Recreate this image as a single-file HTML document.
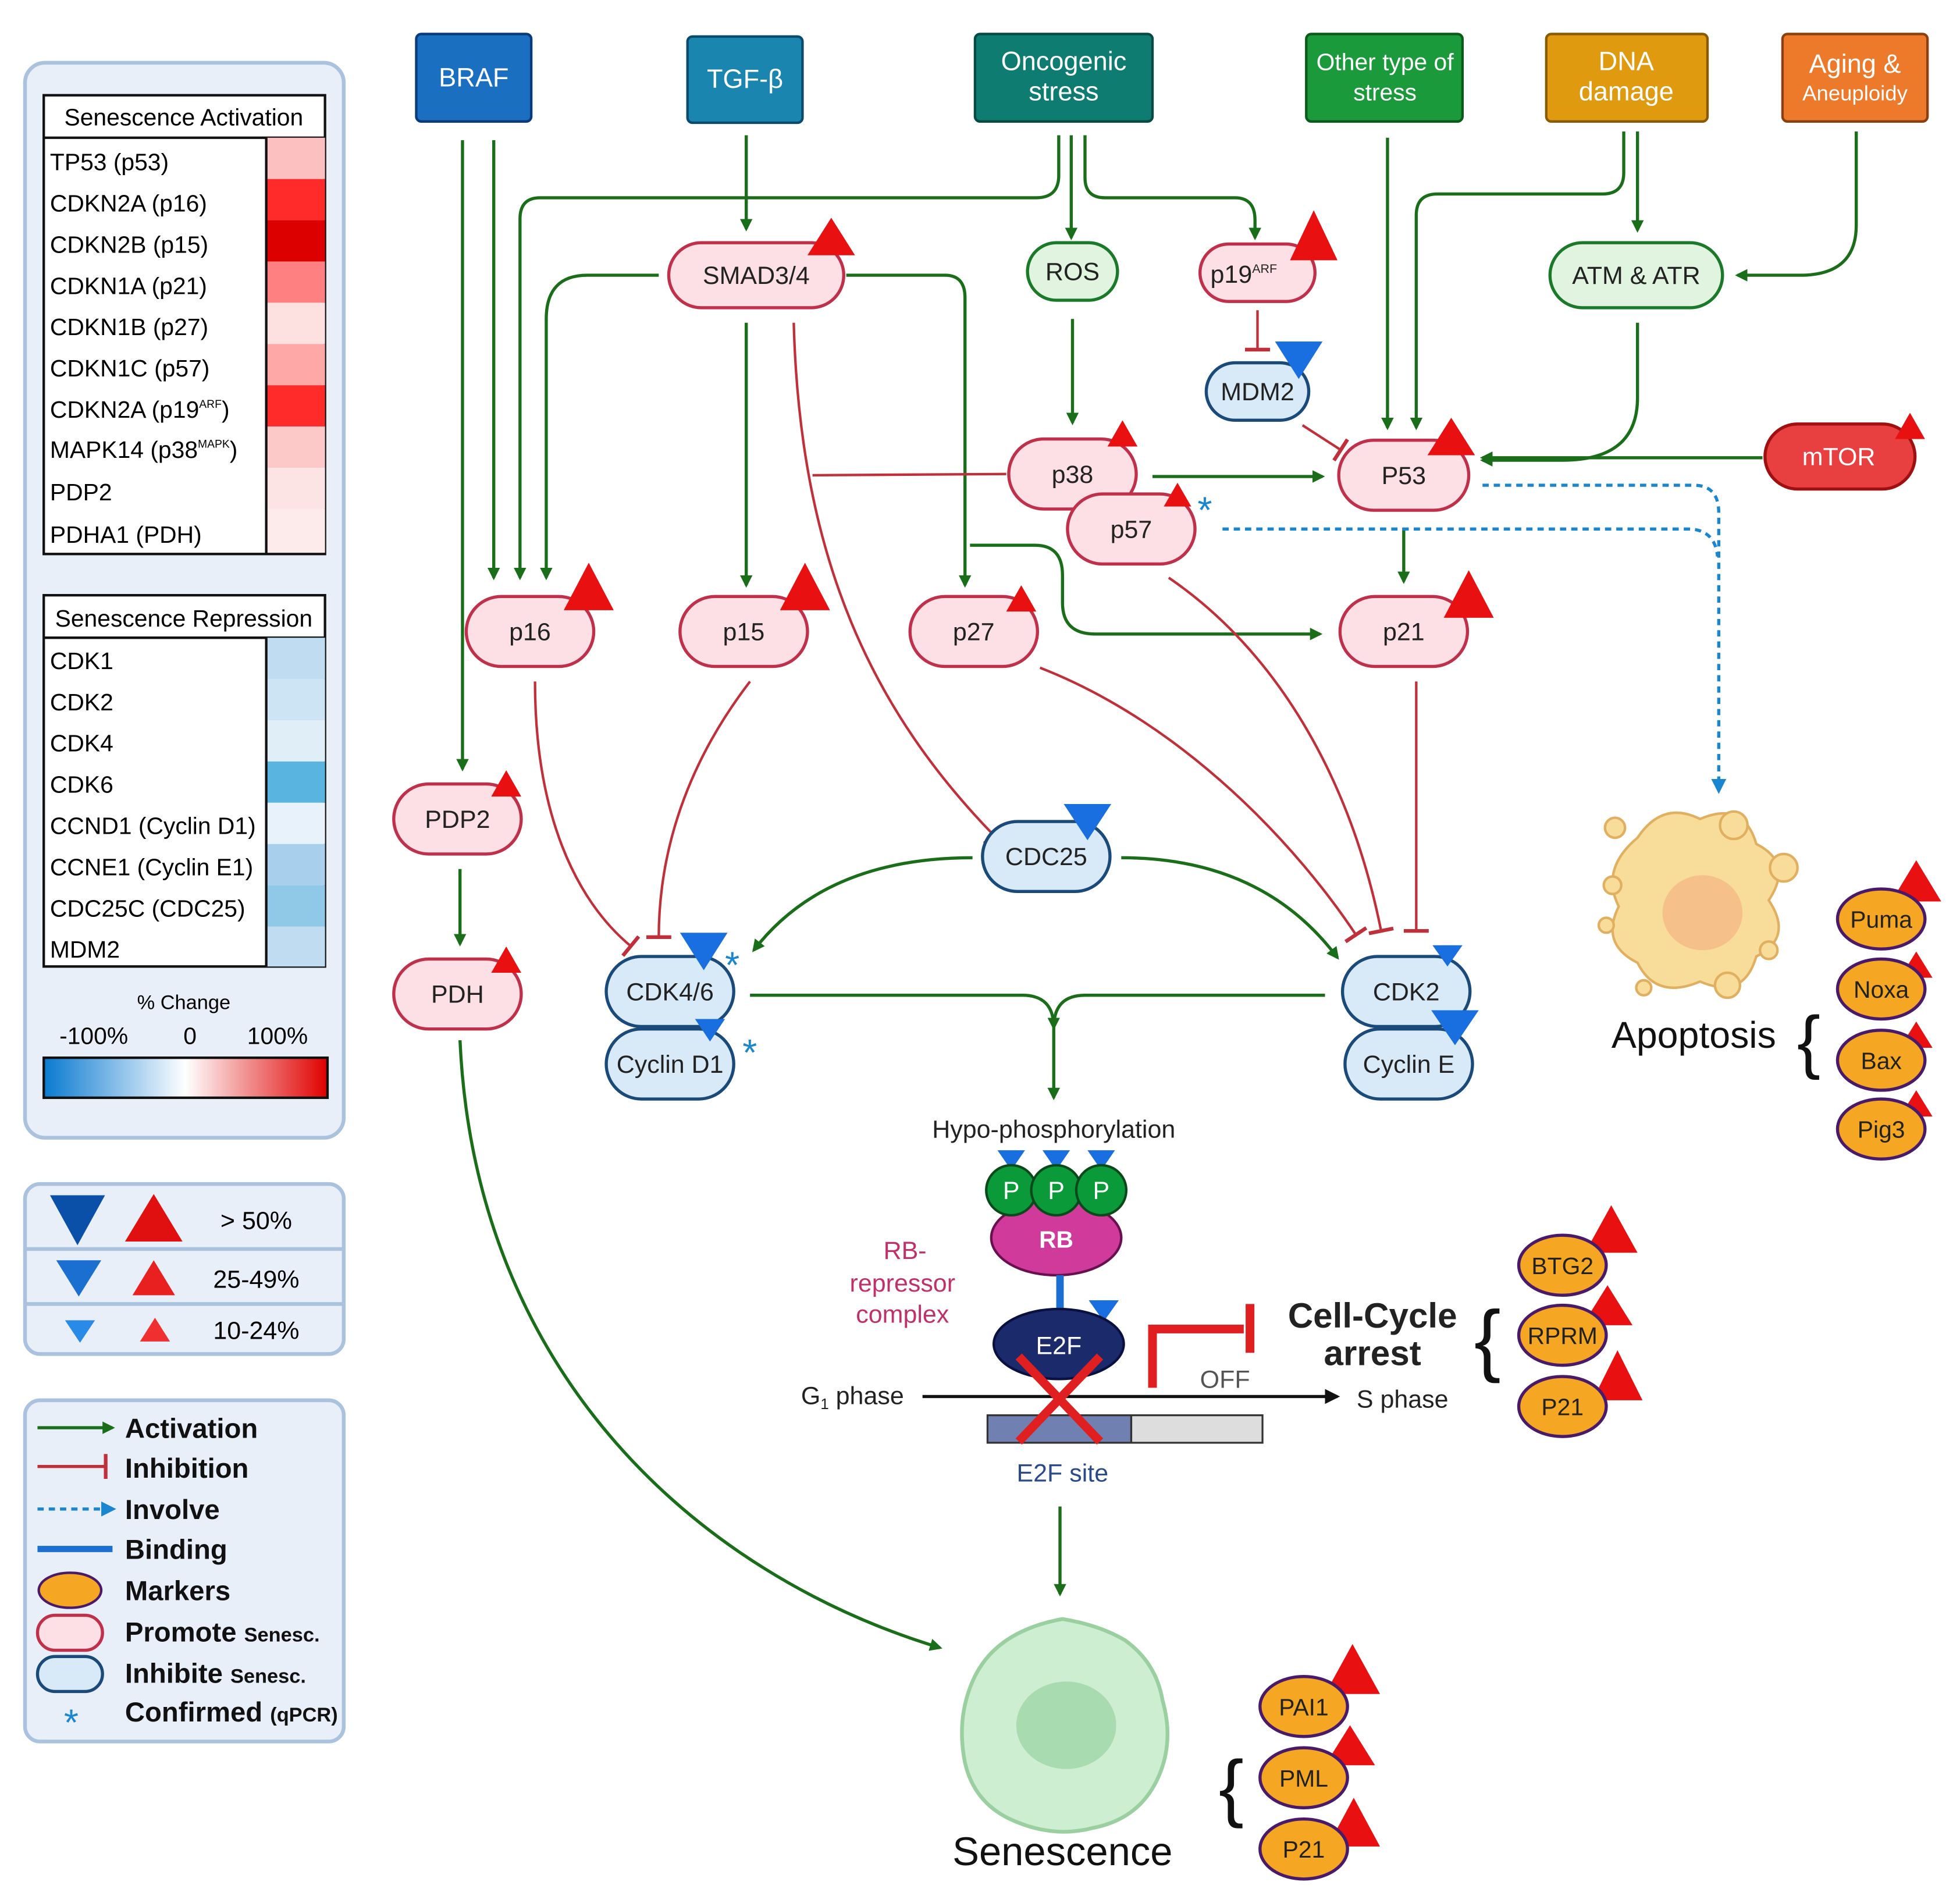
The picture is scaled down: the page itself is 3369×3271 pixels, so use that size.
<!DOCTYPE html>
<html><head><meta charset="utf-8"><style>
html,body{margin:0;padding:0;background:#fff}
svg{display:block}
text{font-family:"Liberation Sans",sans-serif}
</style></head><body>
<svg width="3369" height="3271" viewBox="0 0 1568 1522" xmlns="http://www.w3.org/2000/svg">
<defs>
<marker id="ga" markerWidth="10" markerHeight="10" refX="8" refY="5" orient="auto" markerUnits="userSpaceOnUse"><path d="M0,0 L10,5 L0,10 z" fill="#1a6e1a"/></marker>
<marker id="ba" markerWidth="12" markerHeight="12" refX="9" refY="6" orient="auto" markerUnits="userSpaceOnUse"><path d="M0,0 L12,6 L0,12 z" fill="#1a86d0"/></marker>
<marker id="ka" markerWidth="12" markerHeight="12" refX="10" refY="6" orient="auto" markerUnits="userSpaceOnUse"><path d="M0,0 L12,6 L0,12 z" fill="#111"/></marker>
<marker id="rb" markerWidth="4" markerHeight="20" refX="2" refY="10" orient="auto" markerUnits="userSpaceOnUse"><rect x="0" y="0" width="3" height="20" fill="#c0303a"/></marker>
<linearGradient id="grad" x1="0" x2="1"><stop offset="0" stop-color="#0a7ad0"/><stop offset="0.5" stop-color="#fff"/><stop offset="1" stop-color="#e00000"/></linearGradient>
</defs>

<!-- LEFT LEGEND PANEL -->
<rect x="20" y="50" width="255" height="860" rx="16" fill="#e8eff8" stroke="#aac2de" stroke-width="3"/>
<rect x="35" y="76" width="225" height="367" fill="#fff" stroke="#111" stroke-width="2"/>
<line x1="35" y1="110" x2="260" y2="110" stroke="#111" stroke-width="2"/>
<text x="147" y="100" font-size="19" text-anchor="middle">Senescence Activation</text>
<g font-size="19">
<rect x="213" y="110" width="47" height="33" fill="#fcc0c0"/><text x="40" y="136">TP53 (p53)</text>
<rect x="213" y="143" width="47" height="33" fill="#ff2a2a"/><text x="40" y="169">CDKN2A (p16)</text>
<rect x="213" y="176" width="47" height="33" fill="#dd0000"/><text x="40" y="202">CDKN2B (p15)</text>
<rect x="213" y="209" width="47" height="33" fill="#ff8080"/><text x="40" y="235">CDKN1A (p21)</text>
<rect x="213" y="242" width="47" height="33" fill="#fde0e0"/><text x="40" y="268">CDKN1B (p27)</text>
<rect x="213" y="275" width="47" height="33" fill="#ffa8a8"/><text x="40" y="301">CDKN1C (p57)</text>
<rect x="213" y="308" width="47" height="33" fill="#ff2a2a"/><text x="40" y="334">CDKN2A (p19<tspan font-size="9" dy="-8">ARF</tspan><tspan dy="8">)</tspan></text>
<rect x="213" y="341" width="47" height="33" fill="#fcc8c8"/><text x="40" y="366">MAPK14 (p38<tspan font-size="9" dy="-8">MAPK</tspan><tspan dy="8">)</tspan></text>
<rect x="213" y="374" width="47" height="33" fill="#fde4e4"/><text x="40" y="400">PDP2</text>
<rect x="213" y="407" width="47" height="35" fill="#fdeaea"/><text x="40" y="434">PDHA1 (PDH)</text>
</g>
<line x1="213" y1="110" x2="213" y2="443" stroke="#111" stroke-width="2"/>

<rect x="35" y="476" width="225" height="297" fill="#fff" stroke="#111" stroke-width="2"/>
<line x1="35" y1="510" x2="260" y2="510" stroke="#111" stroke-width="2"/>
<text x="147" y="501" font-size="19" text-anchor="middle">Senescence Repression</text>
<g font-size="19">
<rect x="213" y="510" width="47" height="33" fill="#c0dcf0"/><text x="40" y="535">CDK1</text>
<rect x="213" y="543" width="47" height="33" fill="#cce4f4"/><text x="40" y="568">CDK2</text>
<rect x="213" y="576" width="47" height="33" fill="#e0eef8"/><text x="40" y="601">CDK4</text>
<rect x="213" y="609" width="47" height="33" fill="#5ab4e0"/><text x="40" y="634">CDK6</text>
<rect x="213" y="642" width="47" height="33" fill="#e8f2fa"/><text x="40" y="667">CCND1 (Cyclin D1)</text>
<rect x="213" y="675" width="47" height="33" fill="#a8d0ec"/><text x="40" y="700">CCNE1 (Cyclin E1)</text>
<rect x="213" y="708" width="47" height="33" fill="#90c8e8"/><text x="40" y="733">CDC25C (CDC25)</text>
<rect x="213" y="741" width="47" height="32" fill="#c0dcf0"/><text x="40" y="766">MDM2</text>
</g>
<line x1="213" y1="510" x2="213" y2="773" stroke="#111" stroke-width="2"/>
<text x="147" y="807" font-size="16" text-anchor="middle">% Change</text>
<text x="75" y="835" font-size="19" text-anchor="middle">-100%</text>
<text x="152" y="835" font-size="19" text-anchor="middle">0</text>
<text x="222" y="835" font-size="19" text-anchor="middle">100%</text>
<rect x="35" y="846" width="227" height="32" fill="url(#grad)" stroke="#111" stroke-width="2"/>

<!-- threshold panel -->
<rect x="20" y="947" width="255" height="136" rx="12" fill="#e8eff8" stroke="#aac2de" stroke-width="3"/>
<line x1="20" y1="999" x2="275" y2="999" stroke="#aac2de" stroke-width="3"/>
<line x1="20" y1="1043" x2="275" y2="1043" stroke="#aac2de" stroke-width="3"/>
<polygon points="40,956 84,956 62,996" fill="#0a4fa8"/>
<polygon points="100,993 146,993 123,955" fill="#e01010"/>
<text x="205" y="983" font-size="20" text-anchor="middle">&gt; 50%</text>
<polygon points="45,1008 81,1008 63,1037" fill="#1a6fd0"/>
<polygon points="106,1036 140,1036 123,1008" fill="#e82020"/>
<text x="205" y="1030" font-size="20" text-anchor="middle">25-49%</text>
<polygon points="52,1056 76,1056 64,1074" fill="#2a8ae8"/>
<polygon points="112,1073 136,1073 124,1054" fill="#f03030"/>
<text x="205" y="1071" font-size="20" text-anchor="middle">10-24%</text>

<!-- legend key panel -->
<rect x="20" y="1120" width="255" height="273" rx="12" fill="#e8eff8" stroke="#aac2de" stroke-width="3"/>
<g font-size="22" font-weight="bold" fill="#111">
<line x1="30" y1="1142" x2="90" y2="1142" stroke="#1a6e1a" stroke-width="2.5" marker-end="url(#ga)"/><text x="100" y="1150">Activation</text>
<line x1="30" y1="1173" x2="85" y2="1173" stroke="#c0303a" stroke-width="2.5" marker-end="url(#rb)"/><text x="100" y="1182">Inhibition</text>
<line x1="30" y1="1207" x2="90" y2="1207" stroke="#1a86d0" stroke-width="2.5" stroke-dasharray="5,4" marker-end="url(#ba)"/><text x="100" y="1215">Involve</text>
<line x1="30" y1="1239" x2="90" y2="1239" stroke="#1a6fd0" stroke-width="5"/><text x="100" y="1247">Binding</text>
<ellipse cx="56" cy="1272" rx="25" ry="14" fill="#f5a623" stroke="#4a1a6a" stroke-width="2"/><text x="100" y="1280">Markers</text>
<rect x="30" y="1292" width="52" height="28" rx="14" fill="#fde0e6" stroke="#c0304a" stroke-width="2.5"/><text x="100" y="1313">Promote <tspan font-size="16">Senesc.</tspan></text>
<rect x="30" y="1325" width="52" height="28" rx="14" fill="#d8eaf8" stroke="#1a4a7a" stroke-width="2.5"/><text x="100" y="1346">Inhibite <tspan font-size="16">Senesc.</tspan></text>
<text x="57" y="1388" font-size="30" fill="#1a86d0" text-anchor="middle" font-weight="normal">*</text><text x="100" y="1377">Confirmed <tspan font-size="16">(qPCR)</tspan></text>
</g>

<!-- TOP BOXES -->
<g font-size="21" fill="#fff" text-anchor="middle">
<rect x="333" y="27" width="92" height="70" rx="4" fill="#1a6fc0" stroke="#0a3a7a" stroke-width="2"/><text x="379" y="69">BRAF</text>
<rect x="550" y="29" width="92" height="69" rx="4" fill="#1a86b0" stroke="#0a4a6a" stroke-width="2"/><text x="596" y="70">TGF-β</text>
<rect x="780" y="27" width="142" height="70" rx="4" fill="#0f7c72" stroke="#064a44" stroke-width="2"/><text x="851" y="56">Oncogenic</text><text x="851" y="80">stress</text>
<rect x="1045" y="27" width="125" height="70" rx="4" fill="#1a9a3a" stroke="#0a5a1a" stroke-width="2"/><text x="1108" y="56" font-size="19">Other type of</text><text x="1108" y="80" font-size="19">stress</text>
<rect x="1237" y="27" width="129" height="70" rx="4" fill="#e09a10" stroke="#8a5a00" stroke-width="2"/><text x="1301" y="56">DNA</text><text x="1301" y="80">damage</text>
<rect x="1426" y="27" width="116" height="70" rx="4" fill="#ec7a2a" stroke="#8a4010" stroke-width="2"/><text x="1484" y="58">Aging &amp;</text><text x="1484" y="80" font-size="17">Aneuploidy</text>
</g>

<!-- CONNECTORS green -->
<g fill="none" stroke="#1a6e1a" stroke-width="2.5" marker-end="url(#ga)">
<path d="M370,112 V615"/>
<path d="M395,112 V462"/>
<path d="M847,108 V140 Q847,158 829,158 H432 Q416,158 416,175 V462"/>
<path d="M527,220 H470 Q437,220 437,255 V462"/>
<path d="M857,108 V190"/>
<path d="M868,108 V142 Q868,158 884,158 H988 Q1004,158 1004,176 V190"/>
<path d="M597,108 V183"/>
<path d="M597,258 V468"/>
<path d="M677,220 H756 Q772,220 772,238 V468"/>
<path d="M858,255 V338"/>
<path d="M1110,110 V342"/>
<path d="M1299,105 V138 Q1299,155 1282,155 H1150 Q1133,155 1133,172 V342"/>
<path d="M1310,105 V184"/>
<path d="M1485,105 V180 Q1485,220 1440,220 H1390"/>
<path d="M1310,258 V318 Q1310,368 1250,368 H1186"/>
<path d="M1410,366 H1186"/>
<path d="M922,381 H1058"/>
<path d="M1123,422 V465"/>
<path d="M776,436 H828 Q850,436 850,460 V482 Q850,507 876,507 H1056"/>
<path d="M778,686 Q660,686 603,760"/>
<path d="M897,686 Q1010,686 1070,766"/>
<path d="M600,796 H818 Q843,796 843,822 V878"/>
<path d="M1060,796 H868 Q843,796 843,822"/>
<path d="M368,695 V755"/>
<path d="M368,832 C380,1100 560,1260 752,1318"/>
<path d="M848,1205 V1275"/>
</g>

<!-- inhibitions red -->
<g fill="none" stroke="#c0303a" stroke-width="2" marker-end="url(#rb)">
<path d="M635,258 C640,450 700,570 795,668"/>
<path d="M428,545 C428,650 460,720 505,757"/>
<path d="M600,545 C550,610 527,680 527,750"/>
<path d="M832,534 C950,580 1040,680 1085,748"/>
<path d="M935,462 C1020,520 1080,620 1105,745"/>
<path d="M1133,545 V745"/>
<path d="M1006,248 V280"/>
<path d="M1042,340 L1073,360"/>
</g>
<line x1="805" y1="379" x2="650" y2="380" stroke="#c0303a" stroke-width="2"/>

<!-- dotted blue -->
<g fill="none" stroke="#1a86d0" stroke-width="2.5" stroke-dasharray="5,4">
<path d="M1186,388 H1355 Q1375,388 1375,410 V632" marker-end="url(#ba)"/>
<path d="M978,423 H1350 Q1372,423 1374,445"/>
</g>

<!-- NODES -->
<g font-size="20" text-anchor="middle" stroke-width="2.5">
<g fill="#fde0e6" stroke="#c0304a">
<rect x="535" y="194" width="140" height="52" rx="26"/>
<rect x="960" y="195" width="92" height="46" rx="23"/>
<rect x="807" y="351" width="102" height="56" rx="28"/>
<rect x="854" y="395" width="102" height="56" rx="28"/>
<rect x="1071" y="352" width="104" height="56" rx="28"/>
<rect x="373" y="477" width="102" height="56" rx="28"/>
<rect x="544" y="477" width="102" height="56" rx="28"/>
<rect x="728" y="477" width="102" height="56" rx="28"/>
<rect x="1072" y="477" width="102" height="56" rx="28"/>
<rect x="315" y="627" width="102" height="56" rx="28"/>
<rect x="315" y="767" width="102" height="56" rx="28"/>
</g>
<rect x="1412" y="339" width="120" height="52" rx="26" fill="#e84040" stroke="#a01010"/>
<g fill="#e0f4e0" stroke="#1a7a2a">
<rect x="822" y="194" width="72" height="46" rx="23"/>
<rect x="1240" y="194" width="138" height="52" rx="26"/>
</g>
<g fill="#d8eaf8" stroke="#1a4a7a">
<rect x="965" y="290" width="82" height="46" rx="23"/>
<rect x="786" y="657" width="102" height="56" rx="28"/>
<rect x="485" y="765" width="102" height="56" rx="28"/>
<rect x="485" y="823" width="102" height="56" rx="28"/>
<rect x="1074" y="765" width="102" height="56" rx="28"/>
<rect x="1076" y="823" width="102" height="56" rx="28"/>
</g>
<g stroke="none" fill="#222">
<text x="605" y="227">SMAD3/4</text>
<text x="995" y="226">p19<tspan font-size="10" dy="-8">ARF</tspan></text>
<text x="858" y="386">p38</text>
<text x="905" y="430">p57</text>
<text x="1123" y="387">P53</text>
<text x="1471" y="372" fill="#fff">mTOR</text>
<text x="424" y="512">p16</text>
<text x="595" y="512">p15</text>
<text x="779" y="512">p27</text>
<text x="1123" y="512">p21</text>
<text x="366" y="662">PDP2</text>
<text x="366" y="802">PDH</text>
<text x="858" y="224">ROS</text>
<text x="1309" y="227">ATM &amp; ATR</text>
<text x="1006" y="320">MDM2</text>
<text x="837" y="692">CDC25</text>
<text x="536" y="800">CDK4/6</text>
<text x="536" y="858">Cyclin D1</text>
<text x="1125" y="800">CDK2</text>
<text x="1127" y="858">Cyclin E</text>
</g>
</g>

<!-- triangles red -->
<g fill="#e81010">
<polygon points="646,204 684,204 665,174"/>
<polygon points="1032,208 1070,208 1051,168"/>
<polygon points="886,357 910,357 898,336"/>
<polygon points="931,405 953,405 942,386"/>
<polygon points="1142,364 1180,364 1161,334"/>
<polygon points="1516,351 1540,351 1528,330"/>
<polygon points="451,488 491,488 471,450"/>
<polygon points="624,488 664,488 644,450"/>
<polygon points="805,489 829,489 817,468"/>
<polygon points="1155,494 1195,494 1175,456"/>
<polygon points="393,637 417,637 405,616"/>
<polygon points="393,778 417,778 405,757"/>
<polygon points="1513,721 1553,721 1533,688"/>
<polygon points="1520,782 1546,782 1533,761"/>
<polygon points="1520,838 1546,838 1533,817"/>
<polygon points="1520,893 1546,893 1533,872"/>
<polygon points="1268,1002 1310,1002 1289,964"/>
<polygon points="1266,1060 1306,1060 1286,1028"/>
<polygon points="1274,1120 1314,1120 1294,1080"/>
<polygon points="1060,1355 1104,1355 1082,1315"/>
<polygon points="1060,1412 1100,1412 1080,1380"/>
<polygon points="1062,1477 1104,1477 1083,1438"/>
</g>
<!-- triangles blue -->
<g fill="#1a6fe0">
<polygon points="1020,273 1058,273 1039,303"/>
<polygon points="851,643 889,643 870,672"/>
<polygon points="544,746 582,746 563,776"/>
<polygon points="556,815 580,815 568,833"/>
<polygon points="1146,756 1170,756 1158,773"/>
<polygon points="1145,808 1183,808 1164,836"/>
<polygon points="798,920 820,920 809,936"/>
<polygon points="834,920 856,920 845,936"/>
<polygon points="870,920 892,920 881,936"/>
<polygon points="871,1040 895,1040 883,1057"/>
</g>
<g fill="#1a86d0" font-size="30"><text x="958" y="418">*</text><text x="580" y="782">*</text><text x="594" y="852">*</text></g>

<!-- RB complex -->
<text x="843" y="910" font-size="20" text-anchor="middle" fill="#222">Hypo-phosphorylation</text>
<ellipse cx="845" cy="990" rx="52" ry="30" fill="#d03a9a" stroke="#6a1050" stroke-width="2"/>
<text x="845" y="998" font-size="19" fill="#fff" text-anchor="middle" font-weight="bold">RB</text>
<g stroke="#0a4a1a" stroke-width="2" fill="#0a9a3a">
<circle cx="809" cy="952" r="20"/><circle cx="845" cy="952" r="20"/><circle cx="881" cy="952" r="20"/>
</g>
<g font-size="20" fill="#fff" text-anchor="middle"><text x="809" y="959">P</text><text x="845" y="959">P</text><text x="881" y="959">P</text></g>
<line x1="848" y1="1020" x2="848" y2="1050" stroke="#1a6fd0" stroke-width="6"/>
<ellipse cx="847" cy="1075" rx="52" ry="28" fill="#1a2a6a" stroke="#0a1040" stroke-width="2"/>
<text x="847" y="1083" font-size="20" fill="#fff" text-anchor="middle">E2F</text>
<g fill="#c0306a" font-size="20" text-anchor="middle"><text x="724" y="1007">RB-</text><text x="722" y="1033">repressor</text><text x="722" y="1058">complex</text></g>
<text x="682" y="1123" font-size="20" text-anchor="middle" fill="#222">G<tspan font-size="12" dy="4">1</tspan><tspan dy="-4"> phase</tspan></text>
<line x1="738" y1="1117" x2="1070" y2="1117" stroke="#111" stroke-width="2.5" marker-end="url(#ka)"/>
<text x="1122" y="1126" font-size="20" text-anchor="middle" fill="#222">S phase</text>
<rect x="790" y="1132" width="115" height="22" fill="#7080b0" stroke="#333" stroke-width="1.5"/>
<rect x="905" y="1132" width="105" height="22" fill="#ddd" stroke="#333" stroke-width="1.5"/>
<text x="850" y="1185" font-size="20" text-anchor="middle" fill="#2a4a8a">E2F site</text>
<g stroke="#e02020" stroke-width="7" stroke-linecap="butt" fill="none">
<path d="M815,1085 L880,1153"/><path d="M880,1085 L815,1153"/>
<path d="M922,1110 V1063 H995"/><path d="M1000,1043 V1082"/>
</g>
<text x="980" y="1110" font-size="20" text-anchor="middle" fill="#555">OFF</text>
<text x="1098" y="1062" font-size="28" font-weight="bold" text-anchor="middle" fill="#222">Cell-Cycle</text>
<text x="1098" y="1092" font-size="28" font-weight="bold" text-anchor="middle" fill="#222">arrest</text>
<text x="1190" y="1093" font-size="64" text-anchor="middle" fill="#111">{</text>

<!-- markers -->
<g fill="#f5a623" stroke="#4a1a6a" stroke-width="2.5">
<ellipse cx="1250" cy="1012" rx="35" ry="24"/><ellipse cx="1250" cy="1068" rx="35" ry="24"/><ellipse cx="1250" cy="1125" rx="35" ry="24"/>
<ellipse cx="1505" cy="735" rx="35" ry="24"/><ellipse cx="1505" cy="791" rx="35" ry="24"/><ellipse cx="1505" cy="848" rx="35" ry="24"/><ellipse cx="1505" cy="903" rx="35" ry="24"/>
<ellipse cx="1043" cy="1365" rx="35" ry="24"/><ellipse cx="1043" cy="1422" rx="35" ry="24"/><ellipse cx="1043" cy="1479" rx="35" ry="24"/>
</g>
<g font-size="19" text-anchor="middle" fill="#222">
<text x="1250" y="1019">BTG2</text><text x="1250" y="1075">RPRM</text><text x="1250" y="1132">P21</text>
<text x="1505" y="742">Puma</text><text x="1505" y="798">Noxa</text><text x="1505" y="855">Bax</text><text x="1505" y="910">Pig3</text>
<text x="1043" y="1372">PAI1</text><text x="1043" y="1429">PML</text><text x="1043" y="1486">P21</text>
</g>

<!-- apoptosis blob -->
<g fill="#f8dc9a" stroke="#e0b060" stroke-width="2">
<path d="M1310,670 Q1330,640 1360,655 Q1395,640 1405,675 Q1435,690 1415,720 Q1435,750 1405,765 Q1395,800 1360,785 Q1325,800 1310,770 Q1280,755 1295,725 Q1280,695 1310,670 z"/>
<circle cx="1292" cy="662" r="8"/><circle cx="1387" cy="660" r="11"/><circle cx="1427" cy="694" r="11"/><circle cx="1290" cy="708" r="7"/><circle cx="1285" cy="740" r="6"/><circle cx="1382" cy="788" r="10"/><circle cx="1315" cy="790" r="6"/><circle cx="1415" cy="760" r="7"/>
</g>
<ellipse cx="1362" cy="730" rx="32" ry="30" fill="#f6c08a"/>
<text x="1355" y="838" font-size="30" text-anchor="middle" fill="#111">Apoptosis</text>
<text x="1447" y="852" font-size="56" text-anchor="middle" fill="#111">{</text>

<!-- senescence cell -->
<path d="M850,1295 Q880,1300 900,1312 Q925,1330 930,1360 Q940,1395 925,1425 Q910,1455 875,1462 Q845,1470 815,1458 Q780,1445 772,1410 Q765,1375 778,1345 Q795,1305 850,1295 z" fill="#cdeed0" stroke="#9ad0a0" stroke-width="3"/>
<ellipse cx="853" cy="1380" rx="40" ry="35" fill="#a8dcb0"/>
<text x="850" y="1492" font-size="32" text-anchor="middle" fill="#111">Senescence</text>
<text x="985" y="1450" font-size="60" text-anchor="middle" fill="#111">{</text>
</svg>
</body></html>
